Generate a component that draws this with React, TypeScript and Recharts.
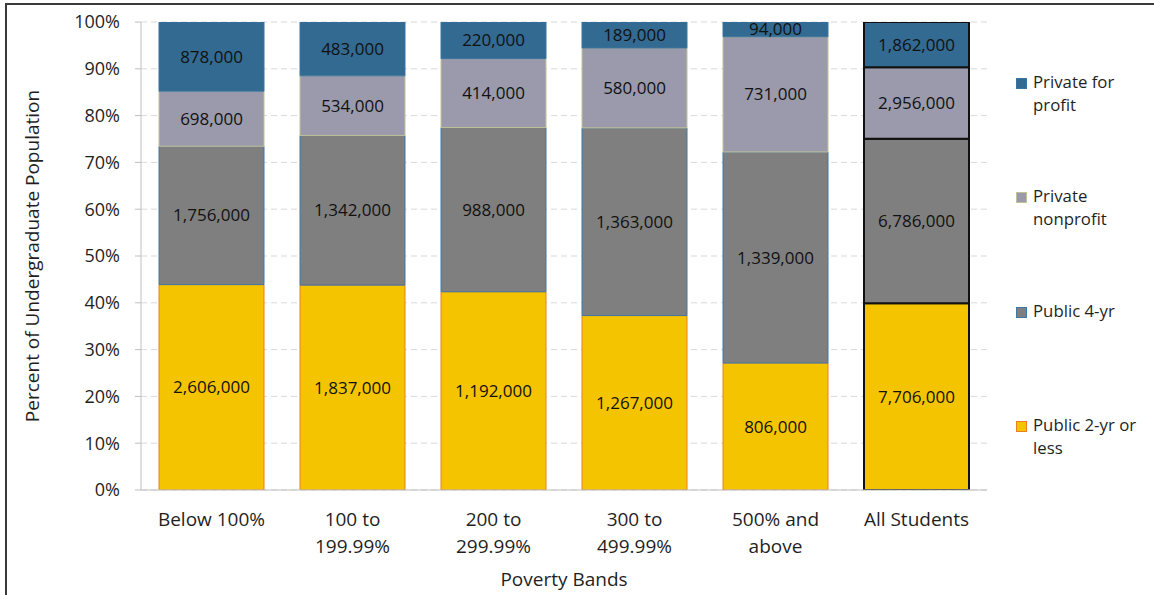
import React from 'react';
import { BarChart, Bar, XAxis, YAxis, CartesianGrid, LabelList, Cell, Label } from 'recharts';

// ---- data ----
const categories = ['Below 100%', '100 to\n199.99%', '200 to\n299.99%', '300 to\n499.99%', '500% and\nabove', 'All Students'];
// values in thousands of students
const public2yr = [2606, 1837, 1192, 1267, 806, 7706];
const public4yr = [1756, 1342, 988, 1363, 1339, 6786];
const privateNonprofit = [698, 534, 414, 580, 731, 2956];
const privateForProfit = [878, 483, 220, 189, 94, 1862];
const yTicks = [0, 0.1, 0.2, 0.3, 0.4, 0.5, 0.6, 0.7, 0.8, 0.9, 1];

const series = [
  { key: 'p2', name: 'Public 2-yr or less', values: public2yr, fill: '#F5C400', stroke: '#E8801E' },
  { key: 'p4', name: 'Public 4-yr', values: public4yr, fill: '#7F7F7F', stroke: '#3C78A8' },
  { key: 'np', name: 'Private nonprofit', values: privateNonprofit, fill: '#9A9AAC', stroke: '#C2C296' },
  { key: 'fp', name: 'Private for profit', values: privateForProfit, fill: '#336A91', stroke: '#3A74A0' },
];

const data = categories.map((cat, i) => {
  const row: Record<string, any> = { cat };
  series.forEach((s) => {
    row[s.key] = s.values[i];
  });
  return row;
});

const FONT = '"Open Sans", sans-serif';
const TEXT = '#1f1f1f';

const fmt = (v: any) => (Number(v) * 1000).toLocaleString('en-US');

const XTick = (props: any) => {
  const { x, y, payload } = props;
  const lines = String(payload.value).split('\n');
  return (
    <text x={x} y={y} textAnchor="middle" fill={TEXT} fontSize={19} fontFamily={FONT}>
      {lines.map((l, i) => (
        <tspan key={i} x={x} dy={i === 0 ? 28 : 27}>
          {l}
        </tspan>
      ))}
    </text>
  );
};

const lastIndex = categories.length - 1;

export default function App() {
  return (
    <div style={{ position: 'absolute', left: 0, top: 0, width: 1154, height: 595, background: '#fff', fontFamily: FONT, overflow: 'hidden' }}>
      <div
        style={{
          position: 'absolute',
          left: 5,
          top: 3,
          width: 1170,
          height: 620,
          borderTop: '2px solid #3a3a3a',
          borderLeft: '2px solid #3a3a3a',
        }}
      />
      <div style={{ position: 'absolute', left: 0, top: 0 }}>
        <BarChart
          width={1154}
          height={595}
          data={data}
          stackOffset="expand"
          margin={{ top: 22, right: 167, bottom: 0, left: 0 }}
        >
          <CartesianGrid vertical={false} stroke="#D9D9D9" strokeDasharray="6 4" />
          <XAxis
            dataKey="cat"
            height={105}
            tickLine={false}
            axisLine={{ stroke: '#BFBFBF' }}
            tick={<XTick />}
            interval={0}
          >
            <Label value="Poverty Bands" position="insideBottom" offset={9} fill={TEXT} fontSize={19} fontFamily={FONT} />
          </XAxis>
          <YAxis
            width={141}
            domain={[0, 1]}
            ticks={yTicks}
            tickFormatter={(v: number) => `${Math.round(v * 100)}%`}
            tick={{ fill: TEXT, fontSize: 18, fontFamily: FONT }}
            tickSize={6}
            tickMargin={15}
            tickLine={{ stroke: '#BFBFBF' }}
            axisLine={{ stroke: '#BFBFBF' }}
            allowDataOverflow
          >
            <Label
              value="Percent of Undergraduate Population"
              angle={-90}
              position="insideLeft"
              offset={32}
              textAnchor="middle"
              style={{ textAnchor: 'middle' }}
              fill={TEXT}
              fontSize={19}
              fontFamily={FONT}
            />
          </YAxis>
          {series.map((s) => (
            <Bar
              key={s.key}
              dataKey={s.key}
              name={s.name}
              stackId="a"
              fill={s.fill}
              stroke={s.stroke}
              barSize={105}
              isAnimationActive={false}
            >
              {data.map((_, i) => (
                <Cell
                  key={i}
                  fill={s.fill}
                  stroke={i === lastIndex ? '#111111' : s.stroke}
                  strokeWidth={i === lastIndex ? 2 : 1}
                />
              ))}
              <LabelList
                dataKey={s.key}
                position="center"
                formatter={fmt}
                fill="#111111"
                fontSize={17}
                fontFamily={FONT}
              />
            </Bar>
          ))}
        </BarChart>
      </div>
      <div style={{ position: 'absolute', left: 1016, top: 70 }}>
        {[...series].reverse().map((s) => (
          <div key={s.key} style={{ display: 'flex', alignItems: 'flex-start', height: 114.3 }}>
            <div
              style={{
                width: 9,
                height: 9,
                marginTop: 8,
                background: s.fill,
                border: `1px solid ${s.stroke}`,
                flex: '0 0 auto',
              }}
            />
            <div style={{ marginLeft: 6, width: 112, fontSize: 16.8, lineHeight: '23px', color: TEXT }}>{s.name}</div>
          </div>
        ))}
      </div>
    </div>
  );
}
